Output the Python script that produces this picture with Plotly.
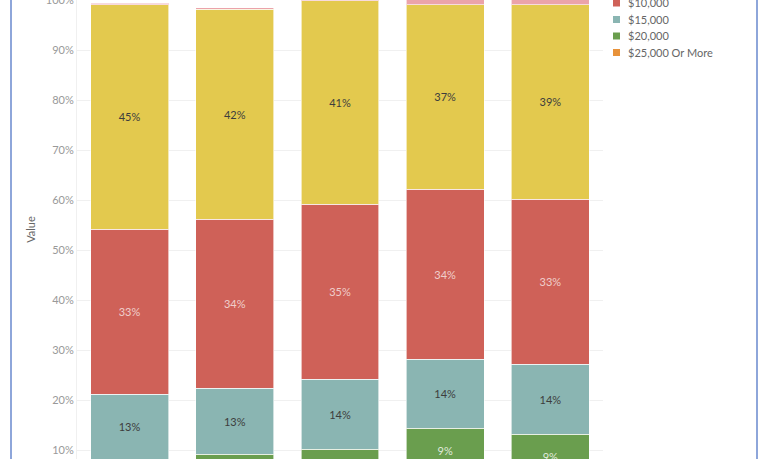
import plotly.graph_objects as go

# Data (shares of each bar, bottom of stack first)
categories = ["A", "B", "C", "D", "E"]
series_names = ["$25,000 Or More", "$20,000", "$15,000", "$10,000", "$5,000", "Less Than $5,000"]
orange_vals = [0.032, 0.032, 0.032, 0.054, 0.042]
green_vals = [0.050, 0.060, 0.070, 0.090, 0.090]
teal_vals = [0.130, 0.132, 0.140, 0.138, 0.140]
red_vals = [0.330, 0.338, 0.350, 0.340, 0.330]
yellow_vals = [0.450, 0.420, 0.408, 0.370, 0.390]
pink_vals = [0.003, 0.003, 0.002, 0.010, 0.010]

series_vals = [orange_vals, green_vals, teal_vals, red_vals, yellow_vals, pink_vals]
colors = ["#E8923A", "#6A9E4E", "#8AB5B2", "#CF6158", "#E3C94E", "#EBA3AA"]
text_colors = ["rgba(255,255,255,0.8)", "rgba(255,255,255,0.8)", "#3d3d3d",
               "rgba(255,255,255,0.7)", "#3d3d3d", "#3d3d3d"]
min_label = 0.02   # segments thinner than this get no label

W, H = 768, 459
L, R = 77, 603          # plot area in pixels
Y_RANGE = [0.082, 1.001]
def px(x):
    return (x - L) / (R - L)
def py(y):
    return 1 - y / H

fig = go.Figure()
base = [0.0] * len(categories)
for name, vals, col, tcol in zip(series_names, series_vals, colors, text_colors):
    # label only segments that are wide enough and whose centre is in view
    labels = []
    for b, v in zip(base, vals):
        centre = b + v / 2
        labels.append(f"{v:.0%}" if v >= min_label and centre > Y_RANGE[0] else "")
    base = [b + v for b, v in zip(base, vals)]
    fig.add_trace(go.Bar(
        x=categories, y=vals, name=name,
        marker=dict(color=col, line=dict(color="rgba(255,255,255,0.6)", width=1)),
        text=labels, texttemplate="%{text}",
        textposition="inside", insidetextanchor="middle", textangle=0,
        insidetextfont=dict(size=11, color=tcol, family="Lato"),
        constraintext="none",
        showlegend=False,
    ))

# legend (top entries run off the top of the view)
shapes = []
annotations = []
legend_order = list(reversed(range(len(series_names))))
for i, idx in enumerate(legend_order):
    yc = 3 + (i - 2) * 16.5
    shapes.append(dict(type="rect", xref="paper", yref="paper",
                       x0=px(613), x1=px(620), y0=py(yc + 3.5), y1=py(yc - 3.5),
                       fillcolor=colors[idx], line=dict(width=0)))
    annotations.append(dict(xref="paper", yref="paper", x=px(626), y=py(yc),
                            xanchor="left", yanchor="middle", showarrow=False,
                            text=series_names[idx],
                            font=dict(size=11, color="#666666", family="Lato")))

# frame lines of the original view
for xx in (11, 757):
    shapes.append(dict(type="line", xref="paper", yref="paper",
                       x0=px(xx), x1=px(xx), y0=-0.1, y1=1.1,
                       line=dict(color="#8EA6DA", width=2)))

fig.update_layout(
    barmode="stack",
    bargap=0.26,
    width=W, height=H,
    margin=dict(l=L, r=W - R, t=0, b=0),
    plot_bgcolor="white", paper_bgcolor="white",
    font=dict(family="Lato", size=11, color="#666666"),
    shapes=shapes,
    annotations=annotations,
    xaxis=dict(showticklabels=False, showgrid=False, zeroline=False),
    yaxis=dict(
        range=Y_RANGE, tickformat=".0%", dtick=0.1,
        showgrid=True, gridcolor="#F0F0F0", zeroline=False,
        showline=True, linecolor="#F0F0F0",
        tickfont=dict(size=11, color="#999999"),
        ticklabeloverflow="allow",
        title=dict(text="Value", font=dict(size=11, color="#666666"), standoff=7),
        automargin=False,
    ),
)

# drop the page's default body margin so the figure sits at the window corner
fig.write_html("out.html", config={"displayModeBar": False},
               post_script="document.body.style.margin = '0';")
